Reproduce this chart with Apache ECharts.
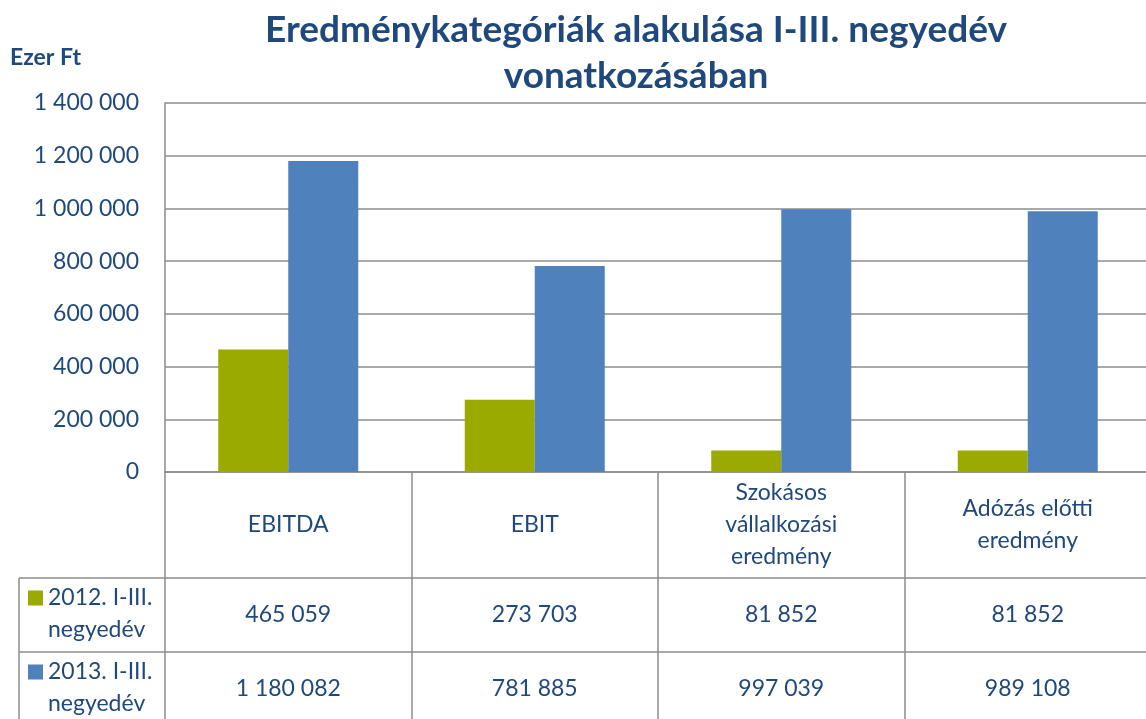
<!DOCTYPE html>
<html>
<head>
<meta charset="utf-8">
<script src="https://cdn.jsdelivr.net/npm/echarts@6/dist/echarts.min.js"></script>
<style>
  html, body { margin: 0; padding: 0; background: #fff; }
  #chart { width: 1146px; height: 719px; }
</style>
</head>
<body>
<div id="chart"></div>
<script>
// Eredménykategóriák alakulása I-III. negyedév vonatkozásában
const categories = ["EBITDA", "EBIT", "Szokásos\nvállalkozási\neredmény", "Adózás előtti\neredmény"];
const seriesNames = ["2012. I-III. negyedév", "2013. I-III. negyedév"];
const values2012 = [465059, 273703, 81852, 81852];
const values2013 = [1180082, 781885, 997039, 989108];
const yTicks = [0, 200000, 400000, 600000, 800000, 1000000, 1200000, 1400000];

(function() {
  const textColor = "#1F497D";
  const lineColor = "#8c8c8c";
  const font = "Lato";
  const fmt = (n) => String(n).replace(/\B(?=(\d{3})+(?!\d))/g, " ");

  // table geometry (pixels)
  const gridLeft = 165, gridTop = 103, axisY = 472;
  const headH = 106, rowH = 74;
  const tableLeft = 19;

  // one legend per table row, square next to the first text line
  const legendRow = (name, top) => ({
    data: [name],
    orient: "vertical",
    left: 28,
    top: top,
    padding: 0,
    itemWidth: 15,
    itemHeight: 47,
    icon: "path://M0,0h15v15h-15z M0,47h0.01v0.01z",
    selectedMode: false,
    formatter: (n) => n.replace(" negyedév", "\nnegyedév"),
    textStyle: { color: textColor, fontFamily: font, fontSize: 23, lineHeight: 32 }
  });

  const option = {
    animation: false,
    textStyle: { fontFamily: font },
    title: [
      {
        text: "Eredménykategóriák alakulása I-III. negyedév\nvonatkozásában",
        left: 636,
        top: 7,
        padding: 0,
        textAlign: "center",
        textStyle: {
          color: textColor,
          fontFamily: font,
          fontWeight: "bold",
          fontSize: 37,
          lineHeight: 46
        }
      },
      {
        text: "Ezer Ft",
        left: 10,
        top: 46,
        padding: 0,
        textStyle: { color: textColor, fontFamily: font, fontWeight: "bold", fontSize: 23 }
      }
    ],
    legend: [
      legendRow(seriesNames[0], 582),
      legendRow(seriesNames[1], 656)
    ],
    grid: {
      left: gridLeft,
      right: -5,
      top: gridTop,
      bottom: 719 - axisY,
      containLabel: false,
      outerBoundsMode: "none"
    },
    xAxis: [
      {
        type: "category",
        data: categories,
        position: "bottom",
        axisLine: { show: true, lineStyle: { color: lineColor, width: 1.5 } },
        axisTick: { show: true, length: headH, interval: 0, lineStyle: { color: lineColor, width: 1.5 } },
        axisLabel: {
          interval: 0,
          margin: headH / 2,
          verticalAlign: "middle",
          color: textColor,
          fontFamily: font,
          fontSize: 23,
          lineHeight: 32
        }
      },
      {
        type: "category",
        data: categories,
        position: "bottom",
        offset: headH,
        axisLine: { show: true, lineStyle: { color: lineColor, width: 1.5 } },
        axisTick: { show: true, length: rowH, interval: 0, lineStyle: { color: lineColor, width: 1.5 } },
        axisLabel: {
          interval: 0,
          margin: 37,
          verticalAlign: "middle",
          color: textColor,
          fontFamily: font,
          fontSize: 23,
          formatter: (v, i) => fmt(values2012[i])
        }
      },
      {
        type: "category",
        data: categories,
        position: "bottom",
        offset: headH + rowH,
        axisLine: { show: true, lineStyle: { color: lineColor, width: 1.5 } },
        axisTick: { show: true, length: 80, interval: 0, lineStyle: { color: lineColor, width: 1.5 } },
        axisLabel: {
          interval: 0,
          margin: 37,
          verticalAlign: "middle",
          color: textColor,
          fontFamily: font,
          fontSize: 23,
          formatter: (v, i) => fmt(values2013[i])
        }
      }
    ],
    yAxis: {
      type: "value",
      min: yTicks[0],
      max: yTicks[yTicks.length - 1],
      interval: yTicks[1] - yTicks[0],
      axisLine: { show: true, lineStyle: { color: lineColor, width: 1.5 } },
      axisTick: { show: false },
      axisLabel: {
        margin: 26,
        color: textColor,
        fontFamily: font,
        fontSize: 23,
        formatter: (v) => fmt(v)
      },
      splitLine: { show: true, lineStyle: { color: lineColor, width: 1.5 } }
    },
    graphic: [
      // left part of the data table (legend column)
      { type: "line", shape: { x1: tableLeft, y1: axisY + headH, x2: gridLeft, y2: axisY + headH }, style: { stroke: lineColor, lineWidth: 1.5 } },
      { type: "line", shape: { x1: tableLeft, y1: axisY + headH + rowH, x2: gridLeft, y2: axisY + headH + rowH }, style: { stroke: lineColor, lineWidth: 1.5 } },
      { type: "line", shape: { x1: tableLeft, y1: axisY + headH, x2: tableLeft, y2: 719 }, style: { stroke: lineColor, lineWidth: 1.5 } }
    ],
    series: [
      {
        name: seriesNames[0],
        type: "bar",
        data: values2012,
        barWidth: 70,
        barGap: "0%",
        itemStyle: { color: "#9BAA00" }
      },
      {
        name: seriesNames[1],
        type: "bar",
        data: values2013,
        barWidth: 70,
        barGap: "0%",
        itemStyle: { color: "#4F81BD" }
      }
    ]
  };

  const chart = echarts.init(document.getElementById("chart"));
  chart.setOption(option);
  window.addEventListener("resize", () => chart.resize());
})();
</script>
</body>
</html>
